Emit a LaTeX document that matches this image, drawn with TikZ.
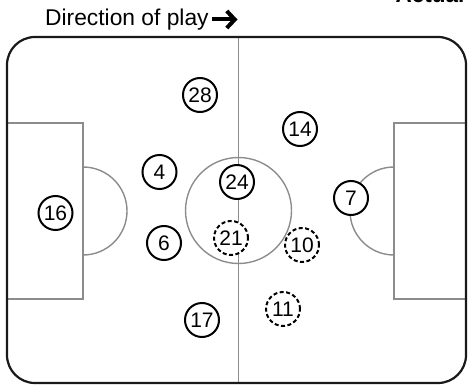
\documentclass[tikz,border=0pt]{standalone}
\usepackage{fontspec}
\setmainfont{Liberation Sans}
\usetikzlibrary{arrows.meta}
\tikzset{
  pitchline/.style={draw=black!45, line width=1.4pt},
  player/.style={circle, draw=black, fill=white, line width=2pt, minimum size=34pt, inner sep=0pt, font=\fontsize{21}{21}\selectfont},
  sub/.style={player, dash pattern=on 4pt off 2.5pt},
}
\begin{document}
\begin{tikzpicture}[x=1pt,y=-1pt]
\useasboundingbox (0,0) rectangle (468,385);
% title texts
\node[anchor=base west, inner sep=0pt, font=\fontsize{22.8}{22.8}\selectfont] (title) at (45,26) {Direction of play};
\coordinate (arrowstart) at (212,19.5);
\coordinate (arrowend) at (237.5,19.5);
\draw[line width=4pt, -{Straight Barb[length=8pt, width=17pt, line width=4pt]}] (arrowstart) -- (arrowend);
\node[anchor=base, inner sep=0pt, font=\bfseries\fontsize{22.5}{22.5}\selectfont] (actual) at (430,3) {Actual};
% pitch markings
\draw[pitchline] (238.5,37) -- (238.5,383);
\draw[pitchline] (238.5,210.5) circle (53);
\draw[pitchline] (7,123) -- (83,123) -- (83,299) -- (7,299);
\draw[pitchline] (83,167) arc[start angle=-90, end angle=90, radius=44];
\draw[pitchline] (466,123) -- (394,123) -- (394,299) -- (466,299);
\draw[pitchline] (394,167) arc[start angle=-90, end angle=-270, radius=44];
% outline
\draw[line width=2.2pt, rounded corners=28pt, draw=black!90] (7,37) rectangle (466,383);
% players
\node[player] (p28) at (200,95) {28};
\node[player] (p14) at (300,129) {14};
\node[player] (p4) at (159.5,172) {4};
\node[player] (p24) at (237,182) {24};
\node[player] (p7) at (351,198) {7};
\node[player] (p16) at (55.5,213) {16};
\node[player] (p6) at (164,243) {6};
\node[sub] (p21) at (231,238) {21};
\node[sub] (p10) at (302,245) {10};
\node[sub] (p11) at (283,309) {11};
\node[player] (p17) at (202,320) {17};
\end{tikzpicture}
\end{document}
